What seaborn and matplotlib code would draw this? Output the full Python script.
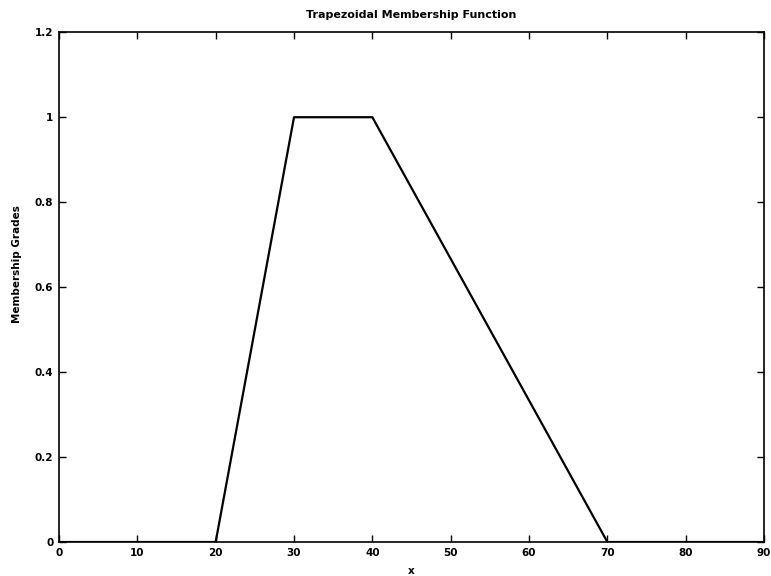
import matplotlib
matplotlib.use("Agg")
import matplotlib.pyplot as plt
import seaborn as sns
import pandas as pd

# Trapezoidal membership function breakpoints
x_points = [0, 20, 30, 40, 70, 90]
membership = [0, 0, 1, 1, 0, 0]
x_ticks = [0, 10, 20, 30, 40, 50, 60, 70, 80, 90]
y_ticks = [0, 0.2, 0.4, 0.6, 0.8, 1.0, 1.2]
y_tick_labels = ["0", "0.2", "0.4", "0.6", "0.8", "1", "1.2"]

sns.set_theme(style="white")
plt.rcParams["font.family"] = ["DejaVu Sans"]
plt.rcParams["text.color"] = "black"
plt.rcParams["axes.labelcolor"] = "black"

df = pd.DataFrame({"x": x_points, "grade": membership})

fig = plt.figure(figsize=(7.71, 5.76), dpi=100)
ax = fig.add_axes([0.0765, 0.059, 0.9145, 0.885])

sns.lineplot(data=df, x="x", y="grade", ax=ax, color="black", linewidth=1.6,
             sort=False, estimator=None)

ax.set_xlim(0, 90)
ax.set_ylim(0, 1.2)
ax.set_xticks(x_ticks)
ax.set_xticklabels([str(t) for t in x_ticks])
ax.set_yticks(y_ticks)
ax.set_yticklabels(y_tick_labels)

ax.tick_params(direction="in", length=5, width=1, colors="black",
               labelsize=7.5, top=True, right=True, bottom=True, left=True,
               labeltop=False, labelright=False, pad=4)
for lbl in ax.get_xticklabels() + ax.get_yticklabels():
    lbl.set_fontweight("bold")
for spine in ax.spines.values():
    spine.set_visible(True)
    spine.set_color("black")
    spine.set_linewidth(1.2)

ax.set_title("Trapezoidal Membership Function", fontsize=8, fontweight="bold",
             color="black", pad=10)
ax.set_xlabel("x", fontsize=7.5, fontweight="bold", labelpad=6)
ax.set_ylabel("Membership Grades", fontsize=7.5, fontweight="bold")
ax.yaxis.set_label_coords(-0.052, 0.545)

fig.savefig("out.png", dpi=100, facecolor="white")
